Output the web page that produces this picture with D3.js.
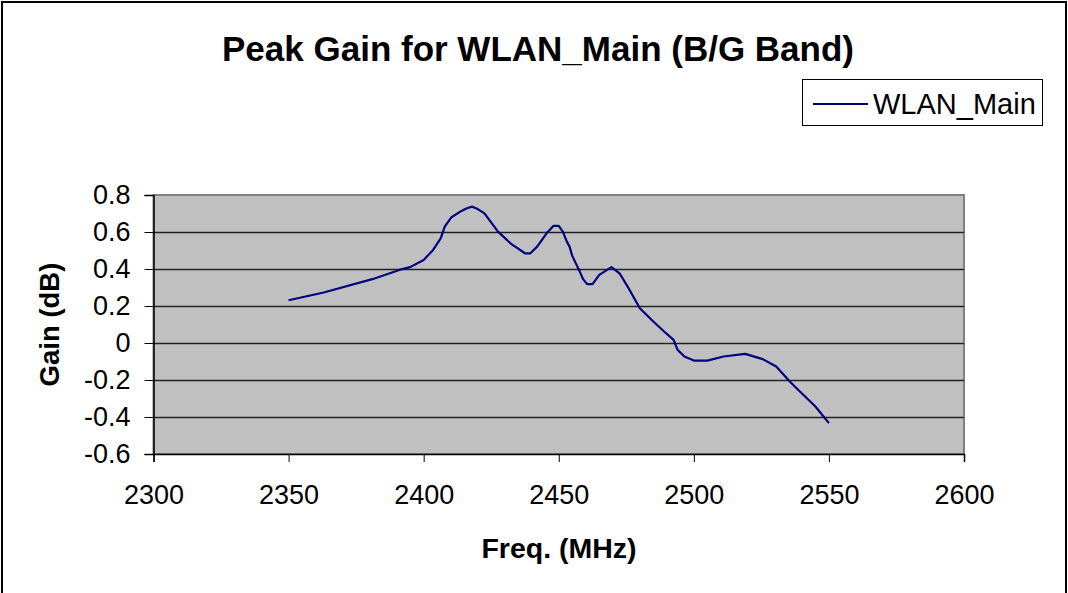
<!DOCTYPE html>
<html>
<head>
<meta charset="utf-8">
<script src="https://cdn.jsdelivr.net/npm/d3@7"></script>
<style>
  html, body { margin: 0; padding: 0; background: #fff; }
  svg { display: block; font-family: "Liberation Sans", Arial, sans-serif; }
</style>
</head>
<body>
<svg width="1068" height="593"></svg>
<script>
const freqs = [2350, 2363, 2381, 2391, 2395, 2400, 2403.5, 2406.3, 2407.8, 2410.3, 2414, 2416, 2418, 2420, 2422.5,
  2427.5, 2432.5, 2437.5, 2439.5, 2442, 2445.5, 2448, 2450, 2451.5, 2453, 2454, 2455, 2457.5, 2459, 2460.5, 2462.5,
  2465, 2469.5, 2472.5, 2475.5, 2480, 2485, 2489, 2492.5, 2494, 2496.5, 2500, 2505, 2511, 2519, 2525.5, 2530.5,
  2535.5, 2540.5, 2545, 2550];
const gains = [0.231, 0.273, 0.345, 0.395, 0.41, 0.449, 0.503, 0.566, 0.629, 0.68, 0.714, 0.728, 0.737, 0.724, 0.701,
  0.602, 0.534, 0.485, 0.485, 0.521, 0.593, 0.633, 0.633, 0.602, 0.548, 0.521, 0.471, 0.395, 0.345, 0.318, 0.318,
  0.368, 0.41, 0.377, 0.305, 0.188, 0.116, 0.062, 0.017, -0.037, -0.073, -0.095, -0.095, -0.073, -0.059, -0.087, -0.127,
  -0.208, -0.28, -0.343, -0.433];
const xTicks = [2300, 2350, 2400, 2450, 2500, 2550, 2600];
const yTicks = [-0.6, -0.4, -0.2, 0, 0.2, 0.4, 0.6, 0.8];

const svg = d3.select("svg");
const plotLeft = 153.5, plotRight = 964, plotTop = 195, plotBottom = 454;

// outer chart border
svg.append("rect")
  .attr("x", 2).attr("y", 2)
  .attr("width", 1064).attr("height", 600)
  .attr("fill", "none").attr("stroke", "#000").attr("stroke-width", 2);

const xScale = d3.scaleLinear().domain([2300, 2600]).range([plotLeft, plotRight]);
const yScale = d3.scaleLinear().domain([-0.6, 0.8]).range([plotBottom, plotTop]);

// plot area
svg.append("rect")
  .attr("x", plotLeft).attr("y", plotTop)
  .attr("width", plotRight - plotLeft).attr("height", plotBottom - plotTop)
  .attr("fill", "#c0c0c0").attr("stroke", "#808080").attr("stroke-width", 2);

// gridlines
svg.append("g")
  .selectAll("line")
  .data(yTicks.filter(d => d > -0.6 && d < 0.8))
  .enter()
  .append("line")
  .attr("x1", plotLeft).attr("x2", plotRight)
  .attr("y1", d => Math.round(yScale(d)) + 0.5)
  .attr("y2", d => Math.round(yScale(d)) + 0.5)
  .attr("stroke", "#222").attr("stroke-width", 1.3);

const xAxis = d3.axisBottom(xScale).tickValues(xTicks).tickSize(8).tickPadding(23).tickFormat(d3.format("d"));
const yAxis = d3.axisLeft(yScale).tickValues(yTicks).tickSize(9).tickPadding(14)
  .tickFormat(d => d === 0 ? "0" : d3.format(".1f")(d).replace("−", "-"));

const gx = svg.append("g")
  .attr("transform", `translate(0, ${plotBottom})`)
  .call(xAxis);
const gy = svg.append("g")
  .attr("transform", `translate(${plotLeft}, 0)`)
  .call(yAxis);

[gx, gy].forEach(g => {
  g.select(".domain").attr("stroke", "#000").attr("stroke-width", 1.5);
  g.selectAll(".tick line").attr("stroke", "#000");
  g.selectAll("text").attr("font-family", "Liberation Sans, Arial, sans-serif")
    .attr("font-size", 27).attr("fill", "#000");
});

// series line
const line = d3.line()
  .x((d, i) => xScale(freqs[i]))
  .y(d => yScale(d));

svg.append("path")
  .datum(gains)
  .attr("d", line)
  .attr("fill", "none")
  .attr("stroke", "#000080")
  .attr("stroke-width", 2.2)
  .attr("stroke-linejoin", "round");

// title and axis titles
svg.append("text")
  .attr("x", 538).attr("y", 61)
  .attr("text-anchor", "middle")
  .attr("font-size", 35).attr("font-weight", "bold")
  .text("Peak Gain for WLAN_Main (B/G Band)");

svg.append("text")
  .attr("x", 559).attr("y", 558)
  .attr("text-anchor", "middle")
  .attr("font-size", 28.5).attr("font-weight", "bold")
  .text("Freq. (MHz)");

svg.append("text")
  .attr("transform", `translate(59, ${(plotTop + plotBottom) / 2}) rotate(-90)`)
  .attr("text-anchor", "middle")
  .attr("font-size", 27.5).attr("font-weight", "bold")
  .text("Gain (dB)");

// legend
const legend = svg.append("g");
legend.append("rect")
  .attr("x", 802.5).attr("y", 79.5)
  .attr("width", 240).attr("height", 46)
  .attr("fill", "#fff").attr("stroke", "#000").attr("stroke-width", 1);
legend.append("line")
  .attr("x1", 813).attr("x2", 868)
  .attr("y1", 104).attr("y2", 104)
  .attr("stroke", "#000080").attr("stroke-width", 2.2);
legend.append("text")
  .attr("x", 873).attr("y", 114)
  .attr("font-size", 29)
  .text("WLAN_Main");
</script>
</body>
</html>
